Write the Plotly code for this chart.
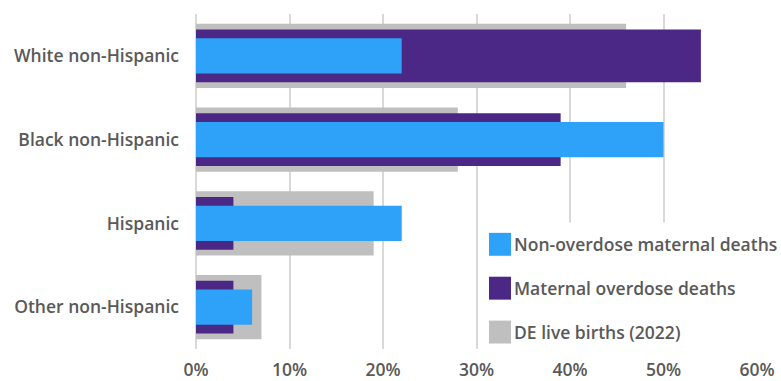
import plotly.graph_objects as go

categories = ["White non-Hispanic", "Black non-Hispanic", "Hispanic", "Other non-Hispanic"]
live_births = [46, 28, 19, 7]
overdose_deaths = [54, 39, 4, 4]
non_overdose_deaths = [22, 50, 22, 6]
x_ticks = [0, 10, 20, 30, 40, 50, 60]
x_tick_labels = ["0%", "10%", "20%", "30%", "40%", "50%", "60%"]

series = [
    ("DE live births (2022)", live_births, "#bfbfbf", 0.77),
    ("Maternal overdose deaths", overdose_deaths, "#4b2885", 0.63),
    ("Non-overdose maternal deaths", non_overdose_deaths, "#2ea1f8", 0.42),
]

FONT = "Open Sans"
TXT = "#595959"

fig = go.Figure()
for name, vals, color, w in series:
    fig.add_trace(go.Bar(
        y=categories, x=vals, orientation="h", name=name,
        marker=dict(color=color, line=dict(width=0)), width=w,
        showlegend=False,
    ))

# custom legend (large square swatches)
legend_items = [
    ("Non-overdose maternal deaths", "#2ea1f8"),
    ("Maternal overdose deaths", "#4b2885"),
    ("DE live births (2022)", "#bfbfbf"),
]
shapes = [dict(type="rect", xref="paper", yref="paper",
               x0=(481 - 196) / 561, x1=1.05, y0=-0.01, y1=(349 - 222) / 336,
               fillcolor="white", line=dict(width=0), layer="above")]
annotations = []
item_y = [244, 288, 332]
for (name, color), yc in zip(legend_items, item_y):
    y0p = (349 - (yc + 11.5)) / 336
    y1p = (349 - (yc - 11.5)) / 336
    shapes.append(dict(type="rect", xref="paper", yref="paper",
                       x0=(489 - 196) / 561, x1=(511 - 196) / 561, y0=y0p, y1=y1p,
                       fillcolor=color, line=dict(width=0), layer="above"))
    annotations.append(dict(xref="paper", yref="paper", x=(512 - 196) / 561,
                            y=(349 - yc) / 336, text=name, showarrow=False,
                            xanchor="left", yanchor="middle",
                            font=dict(family=FONT, size=17.5, color=TXT, weight=600)))

fig.update_layout(
    width=781, height=381,
    margin=dict(l=196, r=24, t=13.5, b=32),
    barmode="overlay",
    plot_bgcolor="white", paper_bgcolor="white",
    shapes=shapes, annotations=annotations,
    showlegend=False,
    xaxis=dict(range=[0, 60], tickvals=x_ticks, ticktext=x_tick_labels,
               showgrid=True, gridcolor="#d9d9d9", gridwidth=1.5,
               zeroline=True, zerolinecolor="#d9d9d9", zerolinewidth=1.5,
               tickfont=dict(family=FONT, size=17.5, color=TXT, weight=600),
               ticks="", fixedrange=True, automargin=False, ticklabelstandoff=8),
    yaxis=dict(categoryorder="array", categoryarray=categories, autorange="reversed",
               tickfont=dict(family=FONT, size=17.5, color=TXT, weight=600),
               ticks="", ticklabelstandoff=16, showgrid=False, automargin=False),
)

fig.write_html("out.html")
